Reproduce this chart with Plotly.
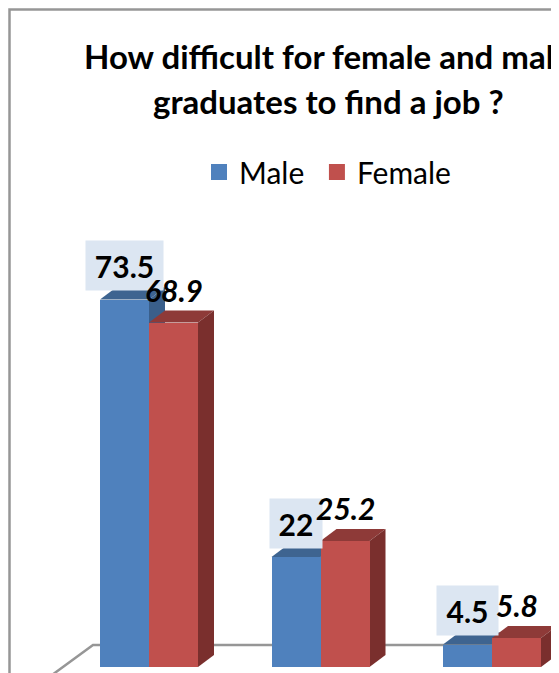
import plotly.graph_objects as go

title_lines = ["How difficult for female and male", "graduates to find a job ?"]
group_index = [0, 1, 2]
male = [73.5, 22, 4.5]
female = [68.9, 25.2, 5.8]
male_labels = ["73.5", "22", "4.5"]
female_labels = ["68.9", "25.2", "5.8"]

OFF = 8                     # the page's own margin round the figure
W, H = 555 - OFF, 673 - OFF
X0, STEP = 149.0, 171.5     # page pixel of group centre, pixels per group
Y0, UNIT = 667.0, 5.0       # page pixel of value 0, pixels per value unit
BAR_PX, DX_PX, DY_PX = 49.0, 16.0, 12.0

bw = BAR_PX / STEP
dx = DX_PX / STEP
dy = DY_PX / UNIT
def px_x(p): return (p - X0) / STEP
def px_y(p): return (Y0 - p) / UNIT
def pap_x(p): return (p - OFF) / W
def pap_y(p): return 1 - (p - OFF) / H

C = {"Male": ("#4F81BD", "#3E6490", "#3A5F8B"), "Female": ("#C0504D", "#8E3A38", "#7A2F2D")}

fig = go.Figure()

def poly(xs, ys, color):
    path = "M" + " L".join(f"{x},{y}" for x, y in zip(xs, ys)) + " Z"
    fig.add_shape(type="path", path=path, xref="x", yref="y", fillcolor=color,
                  line=dict(width=0), layer="below")

# chart border
fig.add_shape(type="rect", xref="paper", yref="paper", x0=pap_x(9.5), x1=pap_x(640), y0=-0.1, y1=pap_y(9.5),
              line=dict(color="#969696", width=2.5), fillcolor="rgba(0,0,0,0)", layer="below")
# floor lines of the 3D box
fig.add_shape(type="path", xref="x", yref="y", layer="below",
              path=f"M{px_x(52)},{px_y(675)} L{px_x(93)},{px_y(645)} L{px_x(640)},{px_y(645)}",
              line=dict(color="#969696", width=2.5))

def prism(x_left, value, name):
    _, top, side = C[name]
    x_right = x_left + bw
    poly([x_left, x_left + dx, x_right + dx, x_right], [value, value + dy, value + dy, value], top)
    poly([x_right, x_right + dx, x_right + dx, x_right], [0, dy, value + dy, value], side)

for i, m in zip(group_index, male):
    prism(i - bw, m, "Male")
for i, f in zip(group_index, female):
    prism(i, f, "Female")

fig.add_trace(go.Bar(x=[i - bw / 2 for i in group_index], y=male, width=bw, name="Male", showlegend=False,
                     marker=dict(color=C["Male"][0], line=dict(width=0))))
fig.add_trace(go.Bar(x=[i + bw / 2 for i in group_index], y=female, width=bw, name="Female", showlegend=False,
                     marker=dict(color=C["Female"][0], line=dict(width=0))))

# legend entries with the reference's larger square swatches
for name, pad in [("Male", "\u00a0"), ("Female", "")]:
    fig.add_trace(go.Scatter(x=[None], y=[None], mode="markers", name=name + pad,
                             marker=dict(symbol="square", size=18, color=C[name][0])))

# data labels
male_boxes = [77, 52, 61]
for i, m, f, ml, fl, bwid in zip(group_index, male, female, male_labels, female_labels, male_boxes):
    fig.add_annotation(x=i, y=m, xref="x", yref="y", text=f"<b>{ml}</b>", showarrow=False,
                       xshift=-25, yshift=34, width=bwid, height=49, borderpad=0,
                       font=dict(family="Lato", size=30, color="black"), bgcolor="#DCE6F2")
    fig.add_annotation(x=i, y=f, xref="x", yref="y", text=f"<b><i>{fl}</i></b>", showarrow=False,
                       xshift=25, yshift=33,
                       font=dict(family="Lato", size=30, color="black"))

# title
for line, yp in zip(title_lines, [56, 101]):
    fig.add_annotation(x=pap_x(328), y=pap_y(yp), xref="paper", yref="paper", text=f"<b>{line}</b>",
                       xanchor="center", yanchor="middle",
                       showarrow=False, font=dict(family="Lato", size=33, color="black"))

fig.update_layout(
    width=W, height=H, margin=dict(l=0, r=0, t=0, b=0),
    paper_bgcolor="white", plot_bgcolor="rgba(0,0,0,0)", barmode="overlay", bargap=0,
    legend=dict(orientation="h", x=pap_x(199), xanchor="left", y=pap_y(172), yanchor="middle",
                font=dict(family="Lato", size=30, color="black"), itemwidth=30,
                bgcolor="rgba(0,0,0,0)"),
    showlegend=True,
    xaxis=dict(range=[px_x(OFF), px_x(OFF + W)], visible=False, fixedrange=True),
    yaxis=dict(range=[px_y(OFF + H), px_y(OFF)], visible=False, fixedrange=True),
)
fig.write_html("out.html")
